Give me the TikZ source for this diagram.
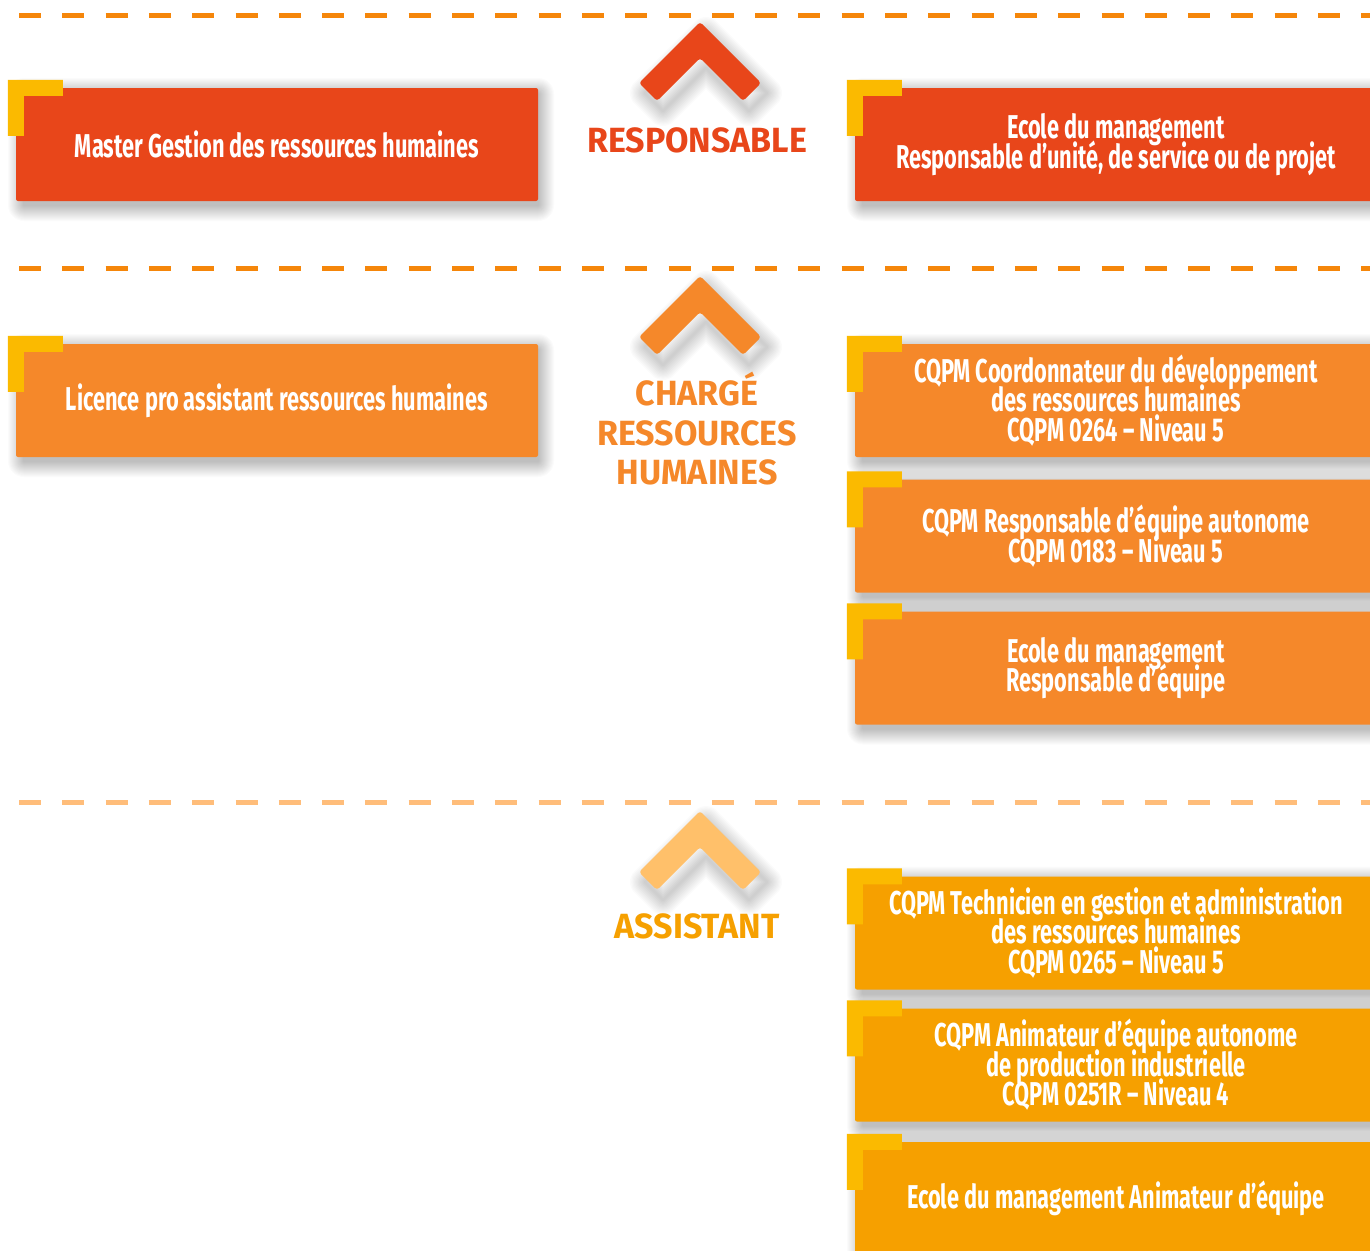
\documentclass[tikz,border=0pt]{standalone}
\usepackage{fontspec}
\newfontfamily\boxfont{Fira Sans}[FakeStretch=0.66]
\newfontfamily\labfont{Fira Sans}[FakeStretch=0.97]
\definecolor{cred}{HTML}{E8461A}
\definecolor{corange}{HTML}{F5882A}
\definecolor{camber}{HTML}{F6A000}
\definecolor{cyellow}{HTML}{FBBA00}
\definecolor{cdash}{HTML}{F5860A}
\definecolor{cdashlight}{HTML}{FFBD7A}
\definecolor{cchevlight}{HTML}{FFC06A}
\newcommand\tightlines{\lineskiplimit=-100pt\relax\lineskip=0pt\relax}
% box: name, colour, x, y, text
\newcommand\mybox[5]{%
  \foreach \k in {1,...,16}{\fill[black, opacity=0.016, rounded corners=\k pt] (#3-261+8-\k, #4-56.5+6-\k) rectangle (#3+261+\k, #4+56.5+4+\k);}
  \node[box, fill=#2] (#1) at (#3,#4) {#5};
  \fill[cyellow, shift={(#1.north west)}] (-8,-8) -- (47,-8) -- (47,8) -- (8,8) -- (8,48) -- (-8,48) -- cycle;}
\newcommand\chevronpath[1]{(700,#1) -- ++(61,61) -- ++(-18,18) -- ++(-43,-43) -- ++(-43,43) -- ++(-18,-18) -- cycle}
\newcommand\chevron[2]{%
  \foreach \k in {1,...,12}{\draw[black, opacity=0.015, line width=2.5*\k pt, line join=round, shift={(6,10)}] \chevronpath{#2};}
  \fill[#1, rounded corners=3pt] \chevronpath{#2};}
\begin{document}
\begin{tikzpicture}[x=1pt, y=-1pt,
  box/.style={minimum width=522pt, minimum height=113pt, rounded corners=2pt, text=white, align=center, inner sep=0pt,
    font=\boxfont\bfseries\fontsize{33}{29.6}\selectfont\tightlines},
  lab/.style={font=\labfont\bfseries\fontsize{35}{39.5}\selectfont\tightlines, align=center, inner sep=0pt},
  dashline/.style={line width=5pt, dash pattern=on 22pt off 21.3pt}]
\useasboundingbox (0,0) rectangle (1370,1250);
\clip (0,0) rectangle (1370,1250);
\fill[white] (0,0) rectangle (1370,1250);
% dashed separators
\draw[dashline, cdash] (19,15) -- (1380,15);
\draw[dashline, cdash] (19,268) -- (1380,268);
\draw[dashline, cdashlight] (19,802) -- (1380,802);
% chevrons
\chevron{cred}{22}
\chevron{corange}{276}
\chevron{cchevlight}{811}
% level labels
\node[lab, text=cred] (lresp) at (697,140) {RESPONSABLE};
\node[lab, text=corange] (lcharge) at (697,429) {CHARGÉ\\RESSOURCES\\HUMAINES};
\node[lab, text=camber] (lassist) at (697,926) {ASSISTANT};
% boxes
\mybox{m1}{cred}{277}{144.5}{Master Gestion des ressources humaines}
\mybox{r1}{cred}{1116}{144.5}{Ecole du management\\Responsable d’unité, de service ou de projet}
\mybox{l2}{corange}{277}{400.5}{Licence pro assistant ressources humaines}
\mybox{ra}{corange}{1116}{400.5}{CQPM Coordonnateur du développement\\des ressources humaines\\CQPM 0264 – Niveau 5}
\mybox{rb}{corange}{1116}{536}{CQPM Responsable d’équipe autonome\\CQPM 0183 – Niveau 5}
\mybox{rc}{corange}{1116}{668}{Ecole du management\\Responsable d’équipe}
\mybox{rd}{camber}{1116}{933}{CQPM Technicien en gestion et administration\\des ressources humaines\\CQPM 0265 – Niveau 5}
\mybox{re}{camber}{1116}{1065}{CQPM Animateur d’équipe autonome\\de production industrielle\\CQPM 0251R – Niveau 4}
\mybox{rf}{camber}{1116}{1198.5}{Ecole du management Animateur d’équipe}
\end{tikzpicture}
\end{document}
